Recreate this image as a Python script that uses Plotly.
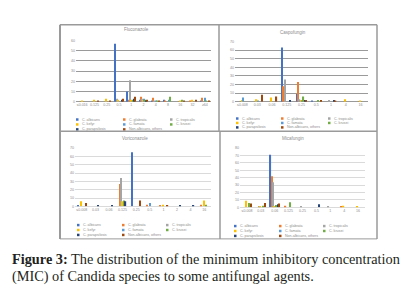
import plotly.graph_objects as go

W, H = 416, 298

series_names = ["C. albicans", "C. glabrata", "C. tropicalis", "C. kefyr",
                "C. famata", "C. krusei", "C. parapsilosis", "Non-albicans, others"]
series_colors = ["#4472C4", "#ED7D31", "#A5A5A5", "#FFC000",
                 "#5B9BD5", "#70AD47", "#264478", "#9E480E"]

# Fluconazole
flu_cats = ["≤0.016", "0.125", "0.25", "0.5", "1", "2", "4", "8", "16", "32", "≥64"]
flu_vals = [
    [0, 0, 0, 57, 10, 2, 1, 2, 0, 0, 1],
    [0, 0, 0, 0, 2, 5, 4, 1, 0, 1, 4],
    [0, 0, 0, 3, 21, 3, 1, 0, 0, 0, 0],
    [1, 2, 3, 2, 2, 2, 0, 0, 1, 2, 0],
    [0, 0, 0, 0, 0, 3, 1, 2, 0, 0, 4],
    [0, 0, 0, 0, 2, 2, 1, 5, 2, 0, 1],
    [0, 0, 0, 2, 3, 1, 0, 0, 0, 0, 0],
    [0, 1, 1, 3, 5, 2, 1, 0, 1, 2, 1],
]
# Caspofungin
cas_cats = ["≤0.008", "0.03", "0.06", "0.125", "0.25", "0.5", "1", "4", "16"]
cas_vals = [
    [0, 0, 0, 63, 9, 1, 0, 0, 0],
    [0, 0, 0, 18, 23, 0, 0, 0, 0],
    [0, 0, 0, 26, 3, 0, 2, 0, 0],
    [2, 3, 5, 0, 2, 0, 0, 3, 1],
    [5, 1, 0, 0, 1, 0, 0, 0, 0],
    [0, 0, 0, 0, 6, 2, 0, 0, 0],
    [0, 0, 0, 2, 2, 0, 2, 0, 0],
    [0, 8, 6, 0, 2, 2, 1, 0, 0],
]
# Voriconazole
vor_cats = ["≤0.008", "0.03", "0.06", "0.125", "0.25", "0.5", "1", "2", "4", "16"]
vor_vals = [
    [1, 0, 0, 0, 65, 0, 0, 0, 0, 0],
    [0, 0, 0, 27, 0, 2, 1, 0, 0, 2],
    [0, 0, 0, 34, 0, 0, 0, 0, 0, 0],
    [6, 0, 0, 6, 0, 0, 2, 0, 0, 7],
    [0, 0, 0, 0, 0, 4, 0, 0, 0, 0],
    [0, 0, 0, 7, 0, 0, 0, 0, 0, 2],
    [0, 1, 1, 6, 0, 0, 0, 1, 1, 0],
    [4, 0, 0, 0, 7, 0, 1, 0, 0, 0],
]
# Micafungin
mic_cats = ["≤0.008", "0.03", "0.06", "0.125", "0.25", "0.5", "1", "4", "16"]
mic_vals = [
    [0, 0, 71, 0, 0, 0, 0, 0, 0],
    [0, 0, 42, 2, 0, 0, 0, 1, 0],
    [0, 1, 34, 0, 1, 0, 1, 0, 0],
    [9, 1, 1, 0, 0, 0, 0, 2, 1],
    [0, 0, 0, 0, 0, 0, 0, 0, 0],
    [6, 2, 3, 7, 0, 0, 0, 0, 0],
    [0, 0, 4, 0, 0, 4, 0, 0, 0],
    [5, 6, 5, 0, 0, 0, 0, 0, 0],
]

titles = ["Fluconazole", "Caspofungin", "Voriconazole", "Micafungin"]
ymax = [60, 70, 70, 80]

def px(x): return x / W
def py(y): return 1 - y / H

areas = [(68, 203, 31, 93), (227, 360, 32, 93), (67, 203, 140, 199), (232, 357, 140, 200)]
grid_colors = ["#9A9A9A", "#9A9A9A", "#DADADA", "#DADADA"]
title_pos = [(128, 20), (285, 23), (127, 130), (285, 130)]
legend_rows = [(111, 116, 121), (110, 114.5, 119), (218, 223, 228), (219, 224, 229)]
legend_cols = [(68, 115, 162), (228, 273, 320), (69, 114, 158), (226, 271, 315)]
text_col = "#8C8C8C"

panels = [(flu_cats, flu_vals), (cas_cats, cas_vals), (vor_cats, vor_vals), (mic_cats, mic_vals)]

fig = go.Figure()
layout = dict(width=W, height=H, margin=dict(l=0, r=0, t=0, b=0),
              paper_bgcolor="white", plot_bgcolor="white",
              showlegend=False, barmode="group", bargap=0.3, bargroupgap=0.0,
              font=dict(family="Liberation Sans", color=text_col))
annotations = []
shapes = []

for p, (cats, vals) in enumerate(panels):
    xa = "x" if p == 0 else f"x{p+1}"
    ya = "y" if p == 0 else f"y{p+1}"
    for s in range(8):
        fig.add_trace(go.Bar(x=cats, y=vals[s], name=series_names[s],
                             marker=dict(color=series_colors[s], line=dict(width=0)),
                             xaxis=xa, yaxis=ya))
    x0, x1, yt, yb = areas[p]
    key_x = "xaxis" if p == 0 else f"xaxis{p+1}"
    key_y = "yaxis" if p == 0 else f"yaxis{p+1}"
    layout[key_x] = dict(domain=[px(x0), px(x1)], anchor=ya, type="category",
                         tickfont=dict(size=3.6, color=text_col), showgrid=False,
                         showline=False, ticks="", ticklen=0, tickangle=0,
                         categoryorder="array", categoryarray=cats)
    layout[key_y] = dict(domain=[py(yb), py(yt)], anchor=xa, range=[0, ymax[p]],
                         dtick=10, tickfont=dict(size=3.6, color=text_col),
                         showgrid=True, gridcolor=grid_colors[p], gridwidth=1,
                         zeroline=True, zerolinecolor=grid_colors[p], zerolinewidth=1,
                         showline=False, ticks="")
    tx, ty = title_pos[p]
    annotations.append(dict(x=px(tx), y=py(ty), xref="paper", yref="paper",
                            text=titles[p], showarrow=False,
                            font=dict(size=4.5, color=text_col),
                            xanchor="center", yanchor="middle"))
    for s in range(8):
        r, c = divmod(s, 3)
        lx = legend_cols[p][c]
        ly = legend_rows[p][r]
        shapes.append(dict(type="rect", xref="paper", yref="paper",
                           x0=px(lx), x1=px(lx + 2.5), y0=py(ly + 1.25), y1=py(ly - 1.25),
                           fillcolor=series_colors[s], line=dict(width=0)))
        annotations.append(dict(x=px(lx + 3.5), y=py(ly), xref="paper", yref="paper",
                                text=series_names[s], showarrow=False,
                                font=dict(size=3.6, color=text_col),
                                xanchor="left", yanchor="middle"))

frame_col = "#9A9A9A"
for (a, b, c, d, w) in [(52, 15, 52, 232, 2), (369, 15, 369, 232, 1.5),
                        (52, 15, 369, 15, 1.5), (52, 123, 369, 123, 1.5),
                        (211, 15, 211, 123, 1.5), (212, 123, 212, 232, 1.5),
                        (52, 232, 369, 232, 1)]:
    shapes.append(dict(type="line", xref="paper", yref="paper",
                       x0=px(a), y0=py(b), x1=px(c), y1=py(d),
                       line=dict(color=frame_col, width=w)))

annotations.append(dict(x=px(2), y=py(252), xref="paper", yref="paper",
                        text="<b>Figure 3:</b> The distribution of the minimum inhibitory concentration",
                        showarrow=False, xanchor="left", yanchor="middle",
                        font=dict(family="Liberation Serif", size=14.3, color="#231F20")))
annotations.append(dict(x=px(2), y=py(270), xref="paper", yref="paper",
                        text="(MIC) of Candida species to some antifungal agents.",
                        showarrow=False, xanchor="left", yanchor="middle",
                        font=dict(family="Liberation Serif", size=14.3, color="#231F20")))

layout["annotations"] = annotations
layout["shapes"] = shapes
fig.update_layout(**layout)
fig.write_html("out.html")
